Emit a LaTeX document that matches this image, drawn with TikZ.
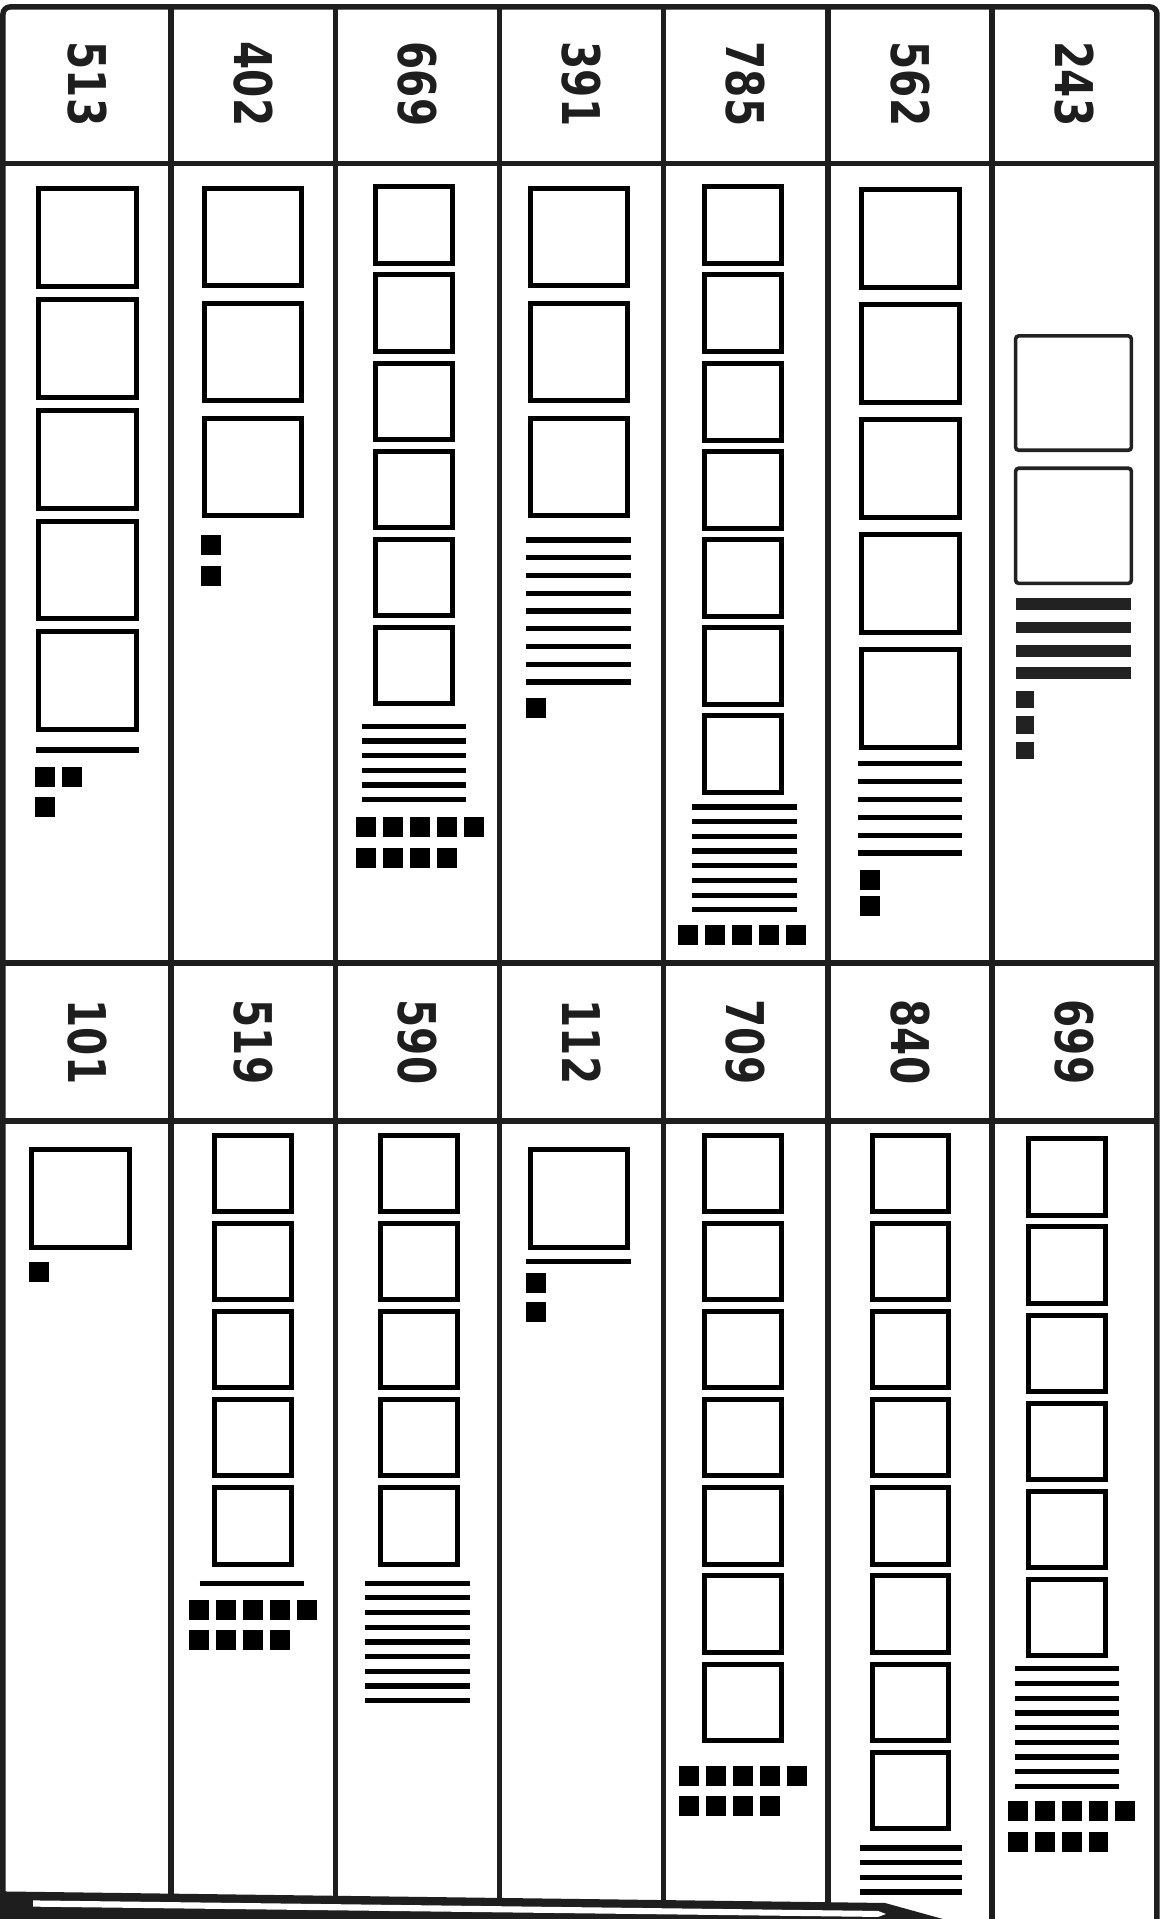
\documentclass[tikz,border=0pt]{standalone}
\usepackage{fontspec}
\usepackage{graphicx}
\newfontfamily\numfont{DejaVu Sans}
\definecolor{gridc}{HTML}{1E1E1E}
\definecolor{softk}{HTML}{222222}
\tikzset{
  gridln/.style={draw=gridc, line width=5.5pt},
  hsqst/.style={draw=black, line width=5pt},
  tenst/.style={draw=black, line width=5.2pt},
  onest/.style={fill=black},
  rsqst/.style={draw=softk, line width=3.6pt, rounded corners=3pt},
  barst/.style={fill=softk},
  numlbl/.style={text=gridc, rotate=-90, inner sep=0pt, font=\numfont\bfseries\fontsize{52}{52}\selectfont},
}
\newcommand\Sq[4]{\draw[hsqst] ({#1+2.04},{#2+2.04}) rectangle ({#1+#3-2.04},{#2+#4-2.04});}
\newcommand\One[2]{\fill[onest] (#1,#2) rectangle ++(16.3,16.3);}
\newcommand\Ten[3]{\draw[tenst] (#1,#3) -- (#2,#3);}
\newcommand\numtxt[1]{\scalebox{0.78}[1]{#1}}
\begin{document}
\begin{tikzpicture}[x=1.22445pt, y=-1.22445pt]
\useasboundingbox (0,0) rectangle (949,1567.3);
\fill[white] (0,0) rectangle (949,1567.3);

% grid
\draw[gridln, rounded corners=7pt] (2.45,1567.3) -- (2.45,5.7) -- (944.9,5.7) -- (944.9,1567.3);
\foreach \xx in {139.65,274,408,541.9,676.2,810.2} \draw[gridln] (\xx,5.7) -- (\xx,1567.3);
\foreach \yy in {133.5,786.5,915.5} \draw[gridln] (2.45,\yy) -- (944.9,\yy);

% header numbers
\node[numlbl] (h1) at (71.05,68.6) {\numtxt{513}};
\node[numlbl] (h2) at (206.8,68.6) {\numtxt{402}};
\node[numlbl] (h3) at (341,68.6) {\numtxt{669}};
\node[numlbl] (h4) at (475,68.6) {\numtxt{391}};
\node[numlbl] (h5) at (609,68.6) {\numtxt{785}};
\node[numlbl] (h6) at (743.2,68.6) {\numtxt{562}};
\node[numlbl] (h7) at (877.5,68.6) {\numtxt{243}};
\node[numlbl] (h8) at (71.05,851) {\numtxt{101}};
\node[numlbl] (h9) at (206.8,851) {\numtxt{519}};
\node[numlbl] (h10) at (341,851) {\numtxt{590}};
\node[numlbl] (h11) at (475,851) {\numtxt{112}};
\node[numlbl] (h12) at (609,851) {\numtxt{709}};
\node[numlbl] (h13) at (743.2,851) {\numtxt{840}};
\node[numlbl] (h14) at (877.5,851) {\numtxt{699}};

% ===== upper row =====
% 513
\foreach \yy in {152,242.5,333,423.5,514} {\Sq{29}{\yy}{84.5}{84}}
\Ten{29}{113.5}{612.5}
\One{28.6}{626.4} \One{50.6}{626.4} \One{28.6}{651.2}
% 402
\foreach \yy in {152,246,340} {\Sq{165}{\yy}{83}{83}}
\One{164}{437} \One{164}{462}
% 669
\foreach \yy in {150.5,222.5,294.5,366.5,438.5,510.5} {\Sq{304.5}{\yy}{67.5}{66.5}}
\foreach \yy in {593.2,605.2,617.2,629.2,641.2,653.2} {\Ten{295.6}{380.6}{\yy}}
\foreach \xx in {290.7,312.7,334.7,356.7,378.7} {\One{\xx}{667.2}}
\foreach \xx in {290.7,312.7,334.7,356.7} {\One{\xx}{692.6}}
% 391
\foreach \yy in {152,246,340} {\Sq{431.5}{\yy}{83}{83}}
\foreach \yy in {441,455.5,470,484.5,499,513.5,528,542.5,557} {\Ten{430}{515}{\yy}}
\One{429.5}{570}
% 785
\foreach \yy in {150.5,222.5,294.5,366.5,438.5,510.5,582.5} {\Sq{573.5}{\yy}{67}{67}}
\foreach \yy in {659.1,671.1,683.1,695.1,707.1,719.1,731.1,743.1} {\Ten{565.2}{650.9}{\yy}}
\foreach \xx in {554.1,576.1,598.1,620.1,642.1} {\One{\xx}{755.4}}
% 562
\foreach \yy in {152.5,246.5,340.5,434.5,528.5} {\Sq{701.5}{\yy}{84}{84}}
\foreach \yy in {623.7,638.3,652.9,667.5,682.1,696.7} {\Ten{701}{785.5}{\yy}}
\One{702.5}{710.5} \One{702.5}{731.8}
% 243
\draw[rsqst] (829.5,274.35) rectangle (924,367.75);
\draw[rsqst] (829.5,382.45) rectangle (924,476.45);
\foreach \yy in {493.5,512.5,531.5,549.5} {\fill[barst] (829.5,{\yy-4.75}) rectangle (923.5,{\yy+4.75});}
\foreach \yy in {564.1,584.8,605.7} {\fill[softk] (830,\yy) rectangle ++(14.6,14.5);}

% ===== lower row =====
% 101
\Sq{24}{937}{84}{83.5}
\One{24}{1031}
% 519
\foreach \yy in {925,997,1069,1141,1213} {\Sq{173}{\yy}{67}{66.5}}
\Ten{163}{248}{1293}
\foreach \xx in {154.5,176.5,198.5,220.5,242.5} {\One{\xx}{1306.5}}
\foreach \xx in {154.5,176.5,198.5,220.5} {\One{\xx}{1331.5}}
% 590
\foreach \yy in {925,997,1069,1141,1213} {\Sq{309}{\yy}{67}{66.5}}
\foreach \yy in {1293,1305,1317,1329,1341,1353,1365,1377,1389} {\Ten{298.5}{383.5}{\yy}}
% 112
\Sq{431}{937}{83.5}{83.5}
\Ten{430}{515}{1030}
\One{429.5}{1039.5} \One{429.5}{1063.5}
% 709
\foreach \yy in {925,997,1069,1141,1213,1285,1357} {\Sq{573.5}{\yy}{67}{66.5}}
\foreach \xx in {554.5,576.5,598.5,620.5,642.5} {\One{\xx}{1442.3}}
\foreach \xx in {554.5,576.5,598.5,620.5} {\One{\xx}{1466.8}}
% 840
\foreach \yy in {925,997,1069,1141,1213,1285,1357,1429} {\Sq{710.5}{\yy}{66.5}{66.5}}
\foreach \yy in {1509.3,1521.3,1533.3,1545.3} {\Ten{702}{786}{\yy}}
% 699
\foreach \yy in {928,1000,1072,1144,1216,1288} {\Sq{838}{\yy}{67}{66.5}}
\foreach \yy in {1363,1375,1387,1399,1411,1423,1435,1447,1459} {\Ten{829}{913.5}{\yy}}
\foreach \xx in {823,845,867,889,911} {\One{\xx}{1470.9}}
\foreach \xx in {823,845,867,889} {\One{\xx}{1496.2}}

% pencil at the bottom
\fill[gridc] (4.1,1544.8) -- (722.8,1554.2) -- (770.1,1567.3) -- (4.1,1567.3) -- cycle;
\fill[white] (27,1552.1) -- (717.1,1560.7) -- (723.6,1563.2) -- (717.1,1565.6) -- (27,1557.2) -- cycle;
\end{tikzpicture}
\end{document}
